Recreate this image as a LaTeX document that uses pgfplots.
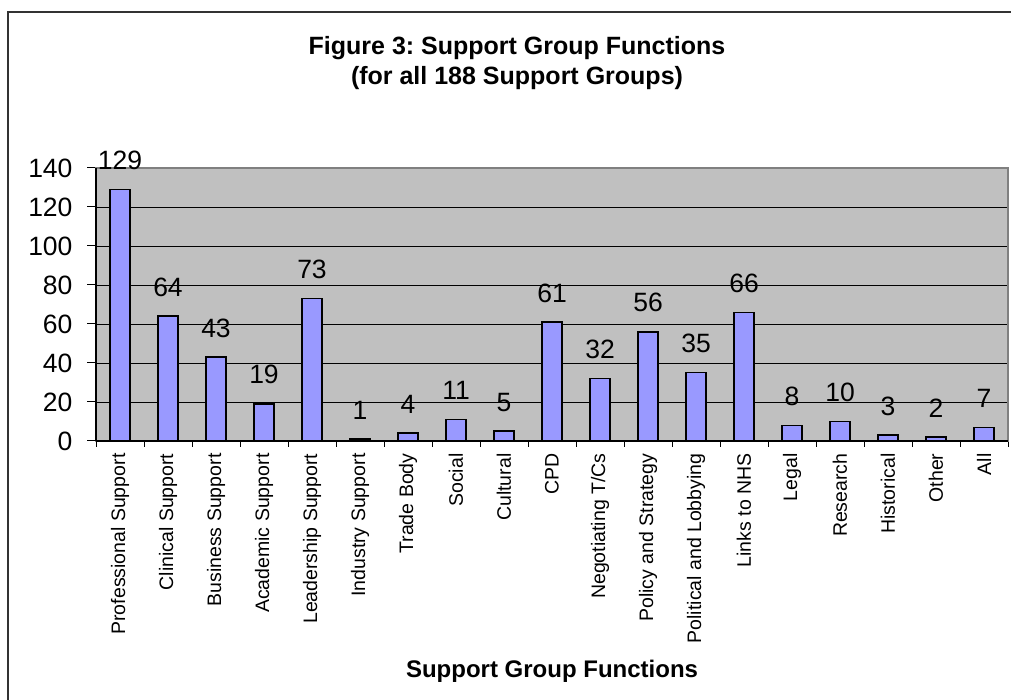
\documentclass[border=0pt]{standalone}
\usepackage{fontspec}
\setmainfont{Liberation Sans}
\usepackage{pgfplots}
\pgfplotsset{compat=1.18}

\definecolor{plotgray}{HTML}{C0C0C0}
\definecolor{barblue}{HTML}{9999FF}
\definecolor{bordergray}{HTML}{808080}
\definecolor{framegray}{HTML}{333333}

\begin{document}
\frenchspacing
\begin{tikzpicture}[x=1pt,y=1pt]
\useasboundingbox (0,0) rectangle (1011,700);
% chart frame
\draw[line width=2pt, color=framegray] (8,0) -- (8,688) -- (1011,688);
% title
\node[anchor=base, font=\bfseries\fontsize{25}{30}\selectfont, inner sep=0pt] at (517,645) {Figure 3: Support Group Functions};
\node[anchor=base, font=\bfseries\fontsize{25}{30}\selectfont, inner sep=0pt] at (517,615) {(for all 188 Support Groups)};
% axis title
\node[anchor=base, font=\bfseries\fontsize{24}{28}\selectfont, inner sep=0pt] at (552,22) {Support Group Functions};

\begin{axis}[
  at={(96pt,259pt)}, anchor=south west,
  scale only axis, width=912pt, height=273pt,
  xmin=-0.5, xmax=18.5, ymin=0, ymax=140,
  /pgf/number format/assume math mode=true,
  ytick={0,20,...,140},
  ymajorgrids,
  major grid style={black, line width=0.9pt},
  axis background/.style={fill=plotgray},
  axis line style={draw=bordergray, line width=2pt},
  tick pos=left,
  tick align=outside,
  major tick length=9pt,
  minor tick length=6pt,
  tick style={black, line width=1pt},
  xtick={0,...,18},
  major x tick style={draw=none},
  minor xtick={-0.5,0.5,...,18.5},
  xticklabels={Professional Support, Clinical Support, Business Support, Academic Support, Leadership Support, Industry Support, Trade Body, Social, Cultural, CPD, Negotiating T/Cs, Policy and Strategy, Political and Lobbying, Links to NHS, Legal, Research, Historical, Other, All},
  x tick label style={rotate=90, anchor=east, font=\fontsize{19.5}{22}\selectfont},
  xticklabel shift=0pt,
  y tick label style={font=\fontsize{26.5}{30}\selectfont},
  yticklabel shift=11pt,
  ybar, bar width=20pt,
  nodes near coords,
  nodes near coords style={font=\fontsize{26.5}{30}\selectfont, anchor=south, inner sep=0pt, yshift=19pt},
  clip=false,
]
\addplot[fill=barblue, draw=black, line width=1.5pt] coordinates {
  (0,129) (1,64) (2,43) (3,19) (4,73) (5,1) (6,4) (7,11) (8,5) (9,61)
  (10,32) (11,56) (12,35) (13,66) (14,8) (15,10) (16,3) (17,2) (18,7)
};
% category and value axis lines
\draw[black, line width=1.2pt] (axis cs:-0.5,0) -- (axis cs:18.5,0);
\draw[black, line width=1.2pt] (axis cs:-0.5,0) -- (axis cs:-0.5,140);
\end{axis}
\end{tikzpicture}
\end{document}
